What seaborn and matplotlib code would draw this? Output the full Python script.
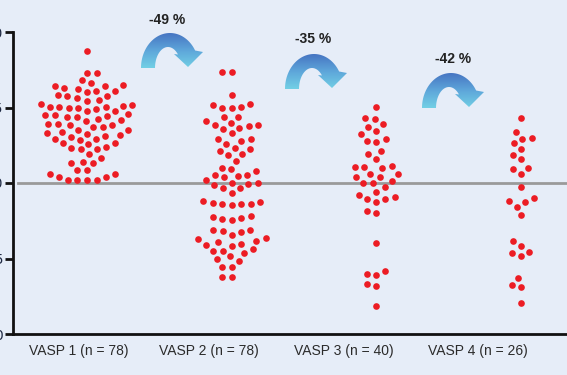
import numpy as np
import pandas as pd
import seaborn as sns
import matplotlib
matplotlib.use("Agg")
import matplotlib.pyplot as plt
from matplotlib.path import Path
from matplotlib.patches import PathPatch
from matplotlib.colors import LinearSegmentedColormap

# ---------------- data ----------------
categories = ["VASP 1 (n = 78)", "VASP 2 (n = 78)", "VASP 3 (n = 40)", "VASP 4 (n = 26)"]
vasp1 = [93.7, 86.5, 86.5, 84.0, 83.0, 82.3, 82.0, 82.2, 81.1, 80.6, 80.2, 80.6, 81.6,
         78.9, 78.0, 78.7, 79.3, 77.0, 77.4, 75.8, 76.1, 75.2, 75.0, 75.0, 74.5, 75.2,
         75.2, 75.6, 73.8, 73.8, 72.5, 72.1, 72.0, 72.7, 71.9, 72.4, 70.7, 71.2, 69.5,
         69.1, 68.7, 69.5, 69.3, 70.4, 68.5, 67.5, 67.6, 66.8, 66.4, 66.2, 65.6, 64.7,
         64.2, 64.7, 65.3, 65.8, 63.2, 61.9, 62.9, 63.1, 61.1, 61.1, 61.5, 59.5, 58.3,
         57.0, 56.5, 56.5, 53.1, 54.2, 54.2, 52.1, 52.9, 52.0, 51.0, 51.0, 51.0, 51.0]
vasp2 = [86.6, 86.6, 79.0, 75.9, 76.3, 74.7, 75.0, 75.2, 71.9, 71.9,
         69.9, 68.8, 68.3, 68.0, 69.1, 69.3, 70.6, 66.4,
         64.7, 63.9, 64.7, 63.0, 61.4, 60.7, 61.7, 59.7, 59.4, 57.4,
         54.7, 54.1, 54.9, 52.8, 52.4, 51.9, 52.6,
         51.0, 49.2, 50.1, 48.3, 50.0, 48.3, 49.8, 46.8,
         44.1, 43.5, 43.0, 42.7, 42.9, 43.0, 43.8,
         38.8, 38.3, 37.9, 38.2, 39.1, 34.4, 34.0, 32.9, 33.8, 34.3,
         31.3, 30.3, 29.9, 29.2, 29.5, 30.8, 31.7, 28.0, 27.6, 26.7, 27.6,
         24.2, 25.7, 24.7, 22.1, 22.2, 18.9, 19.0]
vasp3 = [75.2, 71.4, 71.2, 69.5, 67.2, 68.4, 66.3, 64.6, 63.7, 63.9, 59.6, 60.5, 57.9,
         54.9, 55.2, 55.6, 55.2, 52.0, 52.9, 53.0, 52.0, 49.9, 50.1, 50.7, 48.7, 45.5,
         44.8, 47.1, 43.7, 44.7, 46.0, 40.0, 40.8, 30.0, 20.9, 19.6, 19.9, 16.7, 16.0, 9.4]
vasp4 = [71.5, 66.8, 63.2, 64.8, 64.6, 61.2, 57.8, 59.2, 54.5, 52.9, 55.0, 48.6, 44.0,
         43.6, 44.9, 42.1, 39.4, 30.8, 29.2, 27.3, 25.7, 26.9, 18.5, 16.3, 15.6, 10.3]
changes = ["-49 %", "-35 %", "-42 %"]
y_ticks = [0, 25, 50, 75, 100]
y_ticklabels = ["0", "25", "50", "75", "100"]
cutoff = 50

values = [vasp1, vasp2, vasp3, vasp4]
df = pd.DataFrame({
    "group": np.repeat(categories, [len(v) for v in values]),
    "vasp": np.concatenate(values),
})

# ---------------- figure ----------------
W, H = 567, 375
bg = "#E6EDF8"
fig = plt.figure(figsize=(W / 100, H / 100), dpi=100, facecolor=bg)
ax = fig.add_axes([13 / W, 41 / H, 554 / W, 302 / H], facecolor=bg)

sns.swarmplot(data=df, x="group", y="vasp", order=categories, ax=ax,
              color="#EC1C24", size=6.6, linewidth=0, zorder=3)
ax.set_xlim(-0.511, 3.317)
ax.set_ylim(0, 100)

# let seaborn compute the swarm layout with wider spacing, then shrink dots
fig.canvas.draw()
for c in ax.collections:
    if "draw" in c.__dict__:
        del c.__dict__["draw"]
    c.set_sizes([4.8 ** 2])

ax.axhline(cutoff, xmin=0.009, xmax=1, color="#9A9A9A", lw=2, zorder=2)

ax.set_yticks(y_ticks)
ax.set_yticklabels(y_ticklabels, fontsize=10, color="#1F2A44")
ax.set_xticks([])
ax.set_xlabel("")
ax.set_ylabel("")
for s in ["top", "right"]:
    ax.spines[s].set_visible(False)
for s in ["left", "bottom"]:
    ax.spines[s].set_linewidth(2)
    ax.spines[s].set_color("#111111")
ax.tick_params(axis="y", length=6, width=2, pad=1, color="#111111")

# ---------------- overlay (labels, arrows) ----------------
ov = fig.add_axes([0, 0, 1, 1], zorder=5)
ov.set_xlim(0, W)
ov.set_ylim(H, 0)
ov.axis("off")
ov.patch.set_alpha(0)

font = ["Liberation Sans", "DejaVu Sans"]
label_x = [79, 209, 344, 478]
for lx, cat in zip(label_x, categories):
    ov.text(lx, 351, cat, ha="center", va="center", fontsize=10,
            family=font, color="#2B2B2B")

cmap = LinearSegmentedColormap.from_list("arr", ["#4470C0", "#5EA6DA", "#74D4E6"])
grad = np.linspace(0, 1, 64).reshape(-1, 1)


def arrow_verts(x0, y0):
    # outer arc
    t = np.linspace(np.pi, np.radians(30), 50)
    outer = np.c_[x0 + 29 + 29 * np.cos(t), y0 - 35 * np.sin(t)]
    # inner arc (reverse direction)
    t2 = np.linspace(np.radians(40), np.pi, 50)
    inner = np.c_[x0 + 27 + 13 * np.cos(t2), y0 - 21 * np.sin(t2)]
    head = np.array([[x0 + 62, y0 - 16], [x0 + 47, y0 - 1], [x0 + 33, y0 - 14]])
    return np.vstack([outer, head, inner, outer[:1]])


arrow_origins = [(141, 68), (285, 89), (422, 108)]
label_pos = [(167, 20), (313, 39), (453, 59)]
for (x0, y0), (tx, ty), lab in zip(arrow_origins, label_pos, changes):
    verts = arrow_verts(x0, y0)
    patch = PathPatch(Path(verts, closed=True), facecolor="none", edgecolor="none")
    ov.add_patch(patch)
    im = ov.imshow(grad, cmap=cmap, aspect="auto", origin="upper",
                   extent=(x0 - 2, x0 + 66, y0 + 2, y0 - 37), interpolation="bilinear")
    im.set_clip_path(patch)
    ov.text(tx, ty, lab, ha="center", va="center", fontsize=10, fontweight="bold",
            family=font, color="#222222")

ov.set_xlim(0, W)
ov.set_ylim(H, 0)

fig.savefig("out.png", dpi=100, facecolor=bg)
